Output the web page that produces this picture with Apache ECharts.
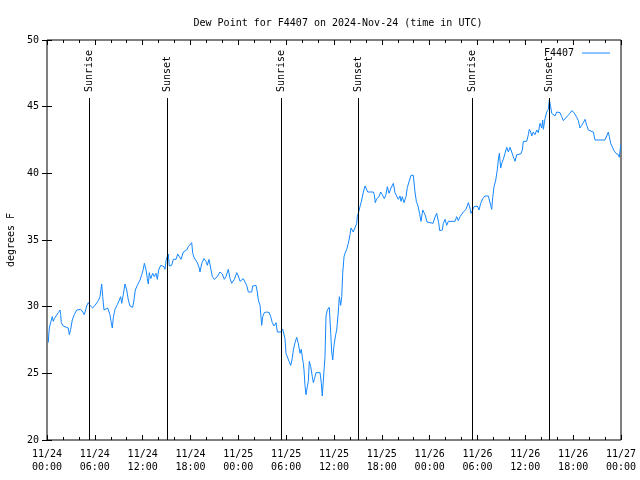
<!DOCTYPE html>
<html>
<head>
<meta charset="utf-8">
<script src="https://cdn.jsdelivr.net/npm/echarts@6/dist/echarts.min.js"></script>
<style>html,body{margin:0;padding:0;background:#fff;}#c{width:640px;height:480px;}</style>
</head>
<body>
<div id="c"></div>
<script>
// hours since 2024-11-24 00:00 UTC
const hours = [0.16,0.21,0.29,0.50,0.66,0.79,0.92,1.13,1.42,1.63,1.72,1.79,2.04,2.26,2.67,2.80,2.97,3.17,3.42,3.73,4.23,4.48,4.68,4.80,4.98,5.18,5.39,5.73,6.02,6.44,6.65,6.77,6.86,6.99,7.15,7.36,7.61,7.78,7.90,8.03,8.19,8.32,8.53,8.82,9.07,9.24,9.37,9.57,9.78,10.00,10.20,10.41,10.75,10.91,11.08,11.33,11.67,11.88,12.08,12.21,12.42,12.58,12.71,12.83,13.01,13.26,13.46,13.67,13.84,14.01,14.26,14.51,14.68,14.80,14.93,15.09,15.22,15.34,15.64,15.84,16.18,16.40,16.60,16.81,17.10,17.31,17.52,17.72,17.94,18.15,18.28,18.44,18.57,18.85,19.10,19.19,19.41,19.69,19.94,20.11,20.32,20.53,20.74,20.99,21.20,21.36,21.70,21.99,22.24,22.45,22.74,22.96,23.17,23.37,23.50,23.80,24.00,24.21,24.42,24.62,24.84,25.05,25.25,25.68,25.80,26.22,26.38,26.51,26.72,26.84,26.93,27.06,27.26,27.56,27.89,28.06,28.26,28.47,28.73,28.89,29.32,29.57,29.73,29.85,29.98,30.19,30.36,30.57,30.73,30.90,31.11,31.32,31.52,31.74,31.90,32.03,32.15,32.24,32.36,32.49,32.65,32.78,32.90,33.08,33.28,33.41,33.56,33.74,34.25,34.41,34.53,34.78,34.87,35.00,35.16,35.41,35.59,35.71,35.84,36.00,36.21,36.34,36.54,36.67,36.84,36.97,37.09,37.26,37.38,37.59,37.80,38.01,38.13,38.30,38.42,38.64,38.85,38.92,39.10,39.26,39.48,39.68,39.89,40.02,40.23,40.93,41.06,41.18,41.36,41.65,41.86,42.06,42.31,42.52,42.69,42.90,43.15,43.44,43.65,43.87,44.07,44.28,44.41,44.57,44.78,45.03,45.20,45.45,45.66,45.95,46.16,46.33,46.54,46.73,46.91,47.13,47.42,47.67,47.83,48.42,48.63,48.88,49.13,49.26,49.59,49.71,49.93,50.14,50.34,51.18,51.39,51.59,51.81,52.02,52.22,52.56,52.85,53.06,53.19,53.40,53.56,53.81,53.98,54.19,54.40,54.65,54.94,55.16,55.36,55.48,55.66,55.78,55.91,56.07,56.29,56.49,56.61,56.74,56.91,57.04,57.24,57.45,57.67,57.87,58.08,58.29,58.49,58.71,58.92,59.12,59.42,59.62,59.75,60.17,60.38,60.50,60.68,60.80,61.00,61.21,61.43,61.63,61.84,62.05,62.18,62.26,62.47,62.68,62.88,63.01,63.18,63.31,63.51,63.72,63.94,64.35,64.56,64.77,64.98,65.27,65.61,65.82,66.11,66.45,66.65,66.86,67.07,67.27,67.49,67.70,67.90,68.12,68.53,68.74,69.99,70.21,70.41,70.53,70.71,70.96,71.12,71.38,71.66,71.79,71.97];
const dewPoint = [27.3,27.8,28.4,28.9,29.25,28.9,29.1,29.3,29.55,29.75,29.4,28.8,28.55,28.4,28.4,27.9,28.3,29.0,29.4,29.75,29.8,29.6,29.4,29.55,30.05,30.3,30.1,29.9,30.1,30.45,30.75,31.3,31.7,30.75,29.75,29.6,29.9,30.0,29.4,28.9,28.4,29.2,29.8,30.15,30.5,30.75,30.25,30.9,31.7,31.25,30.5,30.05,29.95,30.5,31.25,31.6,32.0,32.4,32.8,33.25,32.8,32.1,31.7,32.55,32.1,32.5,32.25,32.5,32.05,32.75,33.1,33.2,33.0,32.8,33.45,33.75,33.95,33.05,33.1,33.55,33.55,33.95,33.75,33.55,34.1,34.2,34.25,34.5,34.6,34.8,34.0,33.7,33.6,33.3,32.9,32.6,33.25,33.6,33.4,33.1,33.55,32.9,32.25,32.05,31.9,32.25,32.6,32.45,32.05,32.25,32.8,32.1,31.75,31.6,32.05,32.55,32.3,31.9,31.9,32.1,32.05,31.6,31.1,31.1,31.55,31.6,31.1,30.5,30.1,29.25,28.6,29.25,29.55,29.6,29.55,29.25,28.8,28.55,28.8,28.1,28.1,28.3,28.45,27.6,26.5,26.5,25.9,25.6,26.0,26.75,27.3,27.7,27.25,26.5,26.8,26.2,25.75,25.25,24.1,23.4,24.0,24.4,25.9,25.5,24.75,24.3,24.6,25.05,25.05,24.25,23.3,23.3,26.25,29.3,29.75,29.95,28.0,26.6,26.0,27.1,27.9,28.25,29.6,30.75,30.1,30.75,32.5,33.75,34.0,34.3,34.75,35.4,35.9,35.75,35.6,35.75,36.25,36.75,37.1,37.5,38.0,38.6,39.05,38.9,38.6,38.6,38.4,37.8,38.1,38.25,38.6,38.4,38.1,38.4,39.0,38.5,38.9,39.25,38.55,38.6,38.05,38.3,37.9,38.25,37.8,38.25,38.95,39.05,39.85,39.85,38.6,37.9,37.55,37.0,36.4,37.25,36.9,36.35,36.25,36.25,36.65,37.0,36.3,35.7,35.75,36.25,36.55,36.1,36.4,36.4,36.75,36.45,36.75,36.9,37.1,37.3,37.8,37.4,37.0,37.25,37.5,37.6,37.55,37.25,37.75,38.1,38.3,38.3,38.3,38.3,37.6,37.3,38.2,39.0,39.5,40.3,41.0,41.5,40.4,40.75,41.05,41.5,41.95,41.6,41.95,41.6,41.25,40.9,41.4,41.45,41.45,41.75,42.4,42.4,42.9,43.3,43.1,42.8,43.1,42.9,43.25,43.05,43.75,43.4,44.0,43.3,44.1,44.6,44.8,45.5,45.0,44.5,44.4,44.3,44.6,44.55,44.25,43.95,43.95,44.3,44.5,44.7,44.55,44.2,43.95,43.4,43.6,43.8,44.05,43.6,43.25,43.1,43.1,42.5,42.5,42.8,43.1,42.75,42.25,42.15,41.7,41.5,41.4,41.2,42.15];
const eventHours = [5.33, 14.99, 29.29, 39.07, 53.37, 63.03];
const eventNames = ['Sunrise', 'Sunset', 'Sunrise', 'Sunset', 'Sunrise', 'Sunset'];
const yTicks = [20, 25, 30, 35, 40, 45, 50];

const FONT = 'DejaVu Sans Mono';
const lineColor = '#1487ff';
const chart = echarts.init(document.getElementById('c'), null, {renderer: 'canvas'});

function xLabel(h) {
  const day = 24 + Math.floor(h / 24);
  const hh = h % 24;
  return '11/' + day + '\n' + (hh < 10 ? '0' : '') + hh + ':00';
}

const xCommon = {
  type: 'value', min: 0, max: 72, interval: 6,
  axisLine: {show: false},
  splitLine: {show: false},
  axisTick: {show: true, inside: true, length: 5, lineStyle: {color: '#000', width: 1}},
  minorTick: {show: true, splitNumber: 3, length: 3, lineStyle: {color: '#000', width: 1}},
  minorSplitLine: {show: false}
};
const yCommon = {
  type: 'value', min: 20, max: 50, interval: 5,
  axisLine: {show: false},
  splitLine: {show: false},
  axisTick: {show: true, inside: true, length: 5, lineStyle: {color: '#000', width: 1}}
};

chart.setOption({
  animation: false,
  backgroundColor: '#fff',
  title: {
    text: 'Dew Point for F4407 on 2024-Nov-24 (time in UTC)',
    left: 333, top: 13, textAlign: 'center',
    textStyle: {fontFamily: FONT, fontSize: 10, fontWeight: 'normal', color: '#000'}
  },
  legend: {
    show: true, data: ['F4407'], right: 25, top: 43, align: 'right',
    icon: 'rect', itemWidth: 28, itemHeight: 1, itemGap: 0,
    textStyle: {fontFamily: FONT, fontSize: 10, color: '#000', padding: [0, 3, 0, 0]}
  },
  grid: {left: 47, right: 19, top: 40, bottom: 40, outerBoundsMode: 'none', containLabel: false,
    show: true, borderColor: '#000', borderWidth: 1, backgroundColor: 'transparent'},
  xAxis: [
    Object.assign({}, xCommon, {
      position: 'bottom',
      axisLabel: {show: true, margin: 8, formatter: xLabel, fontFamily: FONT, fontSize: 10, color: '#000', lineHeight: 13}
    }),
    Object.assign({}, xCommon, {position: 'top', axisLabel: {show: false}})
  ],
  yAxis: [
    Object.assign({}, yCommon, {
      position: 'left',
      name: 'degrees F', nameLocation: 'middle', nameGap: 31, nameRotate: 90,
      nameTextStyle: {fontFamily: FONT, fontSize: 10, color: '#000'},
      axisLabel: {show: true, margin: 8, fontFamily: FONT, fontSize: 10, color: '#000',
        customValues: yTicks}
    }),
    Object.assign({}, yCommon, {position: 'right', axisLabel: {show: false}})
  ],
  series: [
    {
      name: 'F4407', type: 'line', xAxisIndex: 0, yAxisIndex: 0,
      data: hours.map((h, i) => [h, dewPoint[i]]),
      showSymbol: false, symbol: 'none',
      lineStyle: {color: lineColor, width: 1},
      itemStyle: {color: lineColor},
      z: 3
    },
    {
      name: 'events', type: 'custom', xAxisIndex: 0, yAxisIndex: 0,
      data: eventHours.map(h => [h, 20]),
      encode: {x: 0, y: 1},
      z: 4,
      renderItem: function (params, api) {
        const t = api.value(0);
        const b = api.coord([t, 20]);
        const tp = api.coord([t, 45.65]);
        const lb = api.coord([t, 46.1]);
        const x = Math.round(b[0]) + 0.5;
        return {
          type: 'group',
          children: [
            {type: 'line', shape: {x1: x, y1: b[1], x2: x, y2: tp[1]}, style: {stroke: '#000', lineWidth: 1}},
            {type: 'text', x: x, y: lb[1], rotation: Math.PI / 2,
              style: {text: eventNames[params.dataIndex], align: 'left', verticalAlign: 'middle',
                font: '10px "' + FONT + '"', fill: '#000'}}
          ]
        };
      }
    }
  ]
});
</script>
</body>
</html>
